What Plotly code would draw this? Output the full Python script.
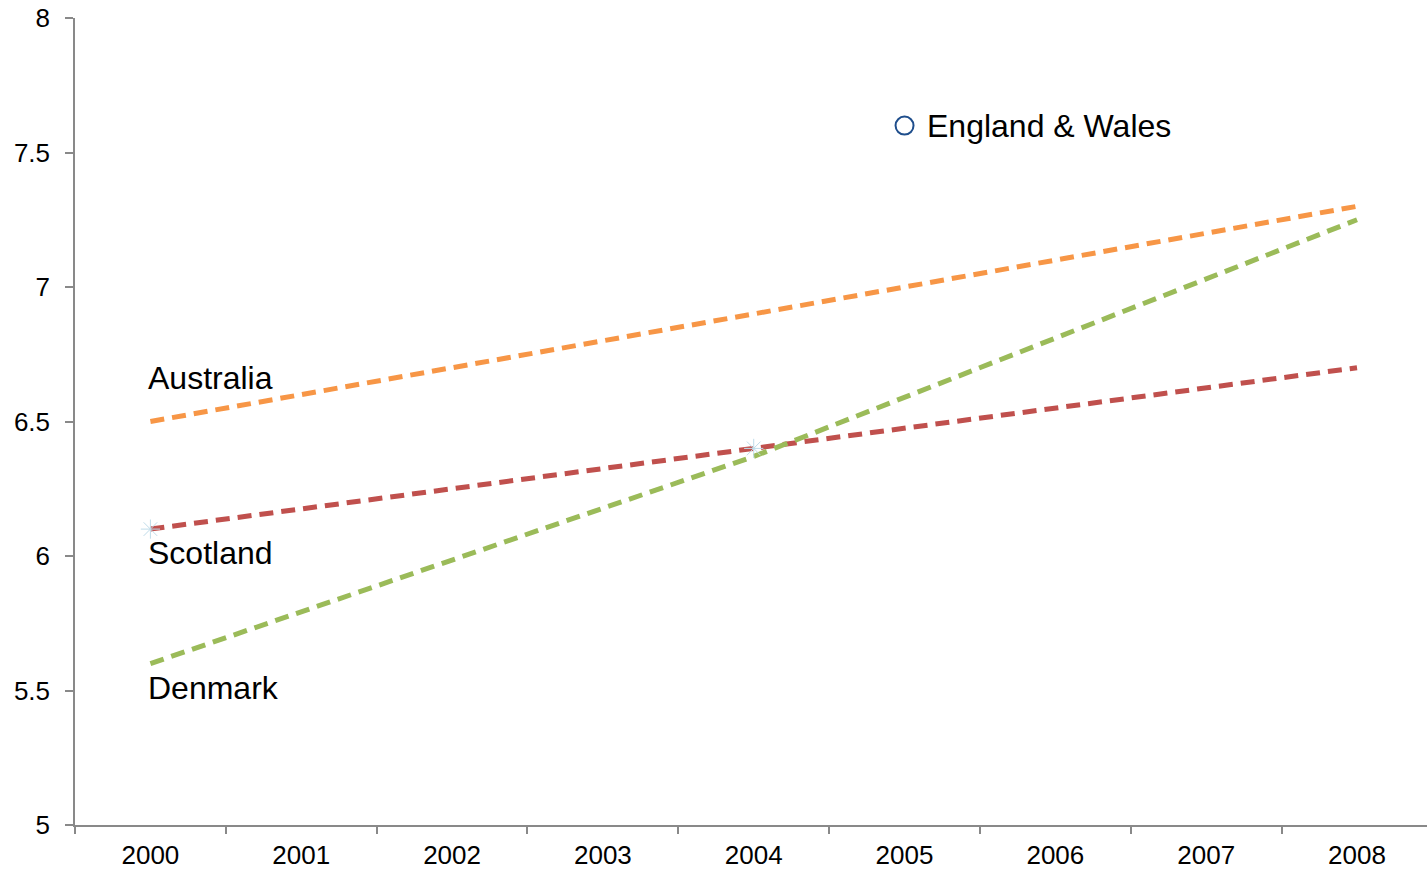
import plotly.graph_objects as go

years = ["2000", "2001", "2002", "2003", "2004", "2005", "2006", "2007", "2008"]

# trend lines (values read at 2000, 2004 and 2008)
trend_years = ["2000", "2004", "2008"]
australia = [6.5, 6.9, 7.3]
scotland = [6.1, 6.4, 6.7]
denmark = [5.6, 6.37, 7.25]

# faint star markers
star_years = ["2000", "2004"]
star_values = [6.1, 6.4]

# England & Wales single point
ew_year = ["2005"]
ew_value = [7.6]

# label positions
label_names = ["Australia", "Scotland", "Denmark"]
label_years = ["2000", "2000", "2000"]
label_values = [6.66, 6.01, 5.51]

FONT = "Liberation Sans, Arial, sans-serif"

fig = go.Figure()

dash = "14px,8px"
fig.add_trace(go.Scatter(x=trend_years, y=australia, mode="lines",
                         line=dict(color="#F79646", width=5, dash=dash), showlegend=False))
fig.add_trace(go.Scatter(x=trend_years, y=scotland, mode="lines",
                         line=dict(color="#C0504D", width=5, dash=dash), showlegend=False))
fig.add_trace(go.Scatter(x=trend_years, y=denmark, mode="lines",
                         line=dict(color="#9BBB59", width=5, dash=dash), showlegend=False))
fig.add_trace(go.Scatter(x=star_years, y=star_values, mode="markers",
                         marker=dict(symbol="asterisk-open", size=16, color="#BFDCEA",
                                     line=dict(color="#BFDCEA", width=1)),
                         showlegend=False))
fig.add_trace(go.Scatter(x=ew_year, y=ew_value, mode="markers",
                         marker=dict(symbol="circle-open", size=18, color="#1F4E8C",
                                     line=dict(color="#1F4E8C", width=2)),
                         showlegend=False))

cat_index = {y: i for i, y in enumerate(years)}

fig.add_annotation(x=cat_index[ew_year[0]], y=ew_value[0], text="England & Wales",
                   showarrow=False, xanchor="left", yanchor="middle", xshift=20,
                   font=dict(family=FONT, size=32, color="#000000"))
for name, yr, v in zip(label_names, label_years, label_values):
    fig.add_annotation(x=cat_index[yr], y=v, text=name, showarrow=False,
                       xanchor="left", yanchor="middle", xshift=-4,
                       font=dict(family=FONT, size=32, color="#000000"))

fig.update_layout(
    width=1427, height=869,
    margin=dict(l=75, r=0, t=18, b=44),
    plot_bgcolor="white", paper_bgcolor="white",
    font=dict(family=FONT, size=26, color="#000000"),
    xaxis=dict(type="category", categoryorder="array", categoryarray=years,
               range=[-0.5, 8.464], tickson="boundaries",
               showgrid=False, zeroline=False,
               showline=True, linecolor="#898989", linewidth=1.5,
               ticks="outside", ticklen=7, tickcolor="#898989", tickwidth=1.5,
               ticklabelstandoff=6,
               tickfont=dict(family=FONT, size=26)),
    yaxis=dict(range=[5, 8], tickvals=[5, 5.5, 6, 6.5, 7, 7.5, 8],
               ticktext=["5", "5.5", "6", "6.5", "7", "7.5", "8"],
               showgrid=False, zeroline=False,
               showline=True, linecolor="#898989", linewidth=1.5,
               ticks="outside", ticklen=8, tickcolor="#898989", tickwidth=1.5,
               ticklabelstandoff=10,
               tickfont=dict(family=FONT, size=26)),
)

fig.write_html("out.html")
